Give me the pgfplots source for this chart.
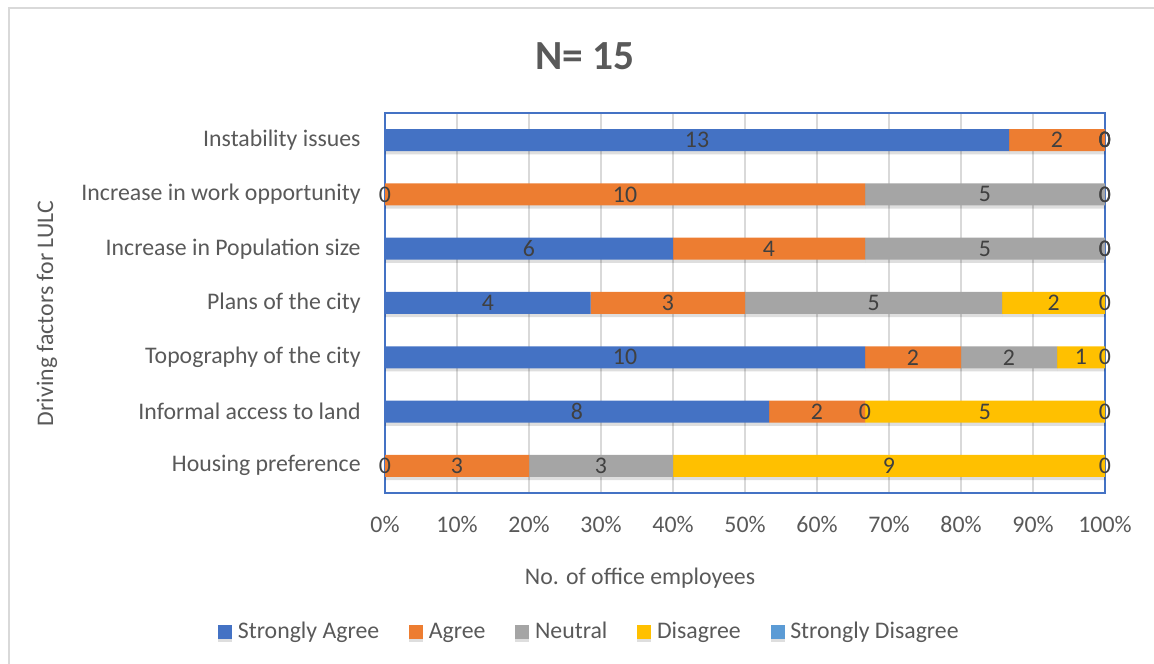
\documentclass[border=0pt]{standalone}
\usepackage{pgfplots}
\pgfplotsset{compat=1.18}
\usepackage{pgfplotstable}
\usepackage{fontspec}
\setmainfont{Carlito}

\definecolor{cSA}{HTML}{4472C4}
\definecolor{cA}{HTML}{ED7D31}
\definecolor{cN}{HTML}{A5A5A5}
\definecolor{cD}{HTML}{FFC000}
\definecolor{cSD}{HTML}{5B9BD5}
\definecolor{txt}{HTML}{595959}
\definecolor{lbl}{HTML}{404040}
\definecolor{gridc}{HTML}{D9D9D9}
\definecolor{frame}{HTML}{D9D9D9}

% responses per driving factor (row 0 = bottom bar)
\pgfplotstableread{
row SA A  N D SD
0   0  3  3 9 0
1   8  2  0 5 0
2   10 2  2 1 0
3   4  3  5 2 0
4   6  4  5 0 0
5   0  10 5 0 0
6   13 2  0 0 0
}\survey

\def\tot{(\thisrow{SA}+\thisrow{A}+\thisrow{N}+\thisrow{D}+\thisrow{SD})}
\def\fs{\fontsize{11.9}{14}\selectfont}

\pgfplotsset{
  seg/.style={draw=none, fill=#1,
    preaction={fill=black, opacity=0.13, transform canvas={yshift=-1.6pt}}},
  frameaxis/.style={
    at={(192.5pt,85pt)}, anchor=south west,
    scale only axis, width=360pt, height=190pt,
    xmin=0, xmax=100, ymin=-0.5, ymax=6.5,
  },
  lab/.style={draw=none, mark=none, nodes near coords,
    point meta=explicit,
    nodes near coords={\pgfmathprintnumber[assume math mode=true]{\pgfplotspointmeta}},
    every node near coord/.append style={anchor=center, text=lbl,
      font=\fs, inner sep=0pt}},
}

\begin{document}
\begin{tikzpicture}
\useasboundingbox (0,0) rectangle (577pt,331.5pt);
\draw[frame, line width=0.7pt] (4.5pt,-2pt) -- (4.5pt,327.5pt) -- (580pt,327.5pt);

\begin{axis}[frameaxis,
  xbar stacked, bar width=11pt,
  xtick={0,10,...,100},
  xticklabels={0\%,10\%,20\%,30\%,40\%,50\%,60\%,70\%,80\%,90\%,100\%},
  ytick={0,...,6},
  yticklabels={Housing preference, Informal access to land, Topography of the city,
    Plans of the city, Increase in Population size, Increase in work opportunity,
    Instability issues},
  xmajorgrids, grid style={gridc, line width=0.8pt},
  major tick length=0pt,
  axis line style={cSA, line width=0.7pt},
  tick label style={text=txt, font=\fs},
  xticklabel style={inner sep=0pt, anchor=north, yshift=-11.5pt},
  yticklabel style={inner sep=0pt, anchor=east, xshift=-12pt},
  legend columns=5,
  legend style={draw=none, fill=none, at={(0.2854,-0.3658)}, anchor=center,
    font=\fs, text=txt,
    /tikz/every even column/.append style={column sep=13pt},
    /tikz/every odd column/.append style={column sep=0.8pt}},
  legend image code/.code={\path[draw=none, fill=#1] (0pt,-3.5pt) rectangle (7pt,3.5pt);},
]
\addplot[seg=cSA] table[x expr=\thisrow{SA}/\tot*100, y=row] {\survey};
\addlegendentry{Strongly Agree}
\addplot[seg=cA] table[x expr=\thisrow{A}/\tot*100, y=row] {\survey};
\addlegendentry{Agree}
\addplot[seg=cN] table[x expr=\thisrow{N}/\tot*100, y=row] {\survey};
\addlegendentry{Neutral}
\addplot[seg=cD] table[x expr=\thisrow{D}/\tot*100, y=row] {\survey};
\addlegendentry{Disagree}
\addplot[seg=cSD] table[x expr=\thisrow{SD}/\tot*100, y=row] {\survey};
\addlegendentry{Strongly Disagree}
\end{axis}

% value labels in the middle of each segment
\begin{axis}[frameaxis, hide axis, clip=false]
\addplot[lab] table[x expr=(\thisrow{SA}/2)/\tot*100, y=row, meta=SA] {\survey};
\addplot[lab] table[x expr=(\thisrow{SA}+\thisrow{A}/2)/\tot*100, y=row, meta=A] {\survey};
\addplot[lab] table[x expr=(\thisrow{SA}+\thisrow{A}+\thisrow{N}/2)/\tot*100, y=row, meta=N] {\survey};
\addplot[lab] table[x expr=(\thisrow{SA}+\thisrow{A}+\thisrow{N}+\thisrow{D}/2)/\tot*100, y=row, meta=D] {\survey};
\addplot[lab] table[x expr=(\thisrow{SA}+\thisrow{A}+\thisrow{N}+\thisrow{D}+\thisrow{SD}/2)/\tot*100, y=row, meta=SD] {\survey};
\end{axis}

\node[text=txt, font=\fontsize{20.7}{24}\selectfont\bfseries] at (292.5pt,303.2pt) {N= 15};
\node[text=txt, font=\fs] at (320pt,42.5pt) {No. of office employees};
\node[text=txt, font=\fs, rotate=90] at (23.5pt,174.75pt) {Driving factors for LULC};
\end{tikzpicture}
\end{document}
